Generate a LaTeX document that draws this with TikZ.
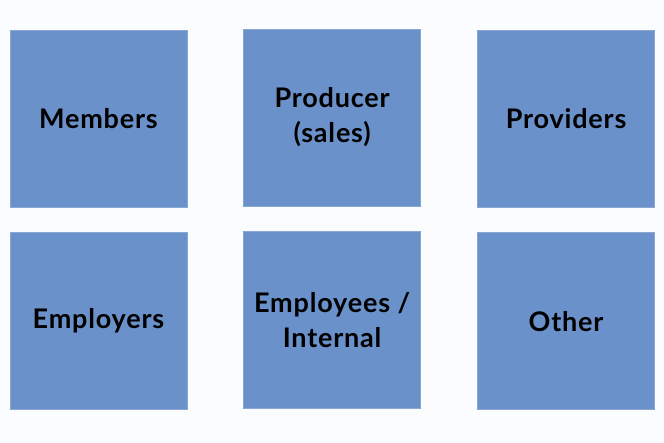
\documentclass[tikz,border=0pt]{standalone}
\usepackage{fontspec}
\setmainfont{Lato}[LetterSpace=3]
\usetikzlibrary{positioning}
\definecolor{boxblue}{HTML}{6A91CA}
\definecolor{pagebg}{HTML}{FBFCFE}

\begin{document}
\begin{tikzpicture}[
        x=1pt, y=1pt,
        node distance=25pt and 56pt,
        every node/.style={font=\fontsize{27}{35}\selectfont\bfseries},
        group/.style={fill=boxblue, draw=boxblue!80!white, line width=0.6pt, minimum width=177pt, minimum height=177pt, align=center, inner sep=0pt}
    ]
        \fill[pagebg] (0,0) rectangle (664,443);
        \useasboundingbox (0,0) rectangle (664,443);

        % Top row
        \node[group] (members) at (98.5,324.5) {Members};
        \node[group, right=of members, yshift=1pt] (producer) {Producer\\(sales)};
        \node[group, right=57pt of members.east, xshift=233pt, anchor=west] (providers) {Providers};

        % Bottom row
        \node[group, below=of members] (employers) {Employers};
        \node[group, below=of producer] (employees) {Employees /\\Internal};
        \node[group, below=of providers] (other) {Other};
\end{tikzpicture}
\end{document}
